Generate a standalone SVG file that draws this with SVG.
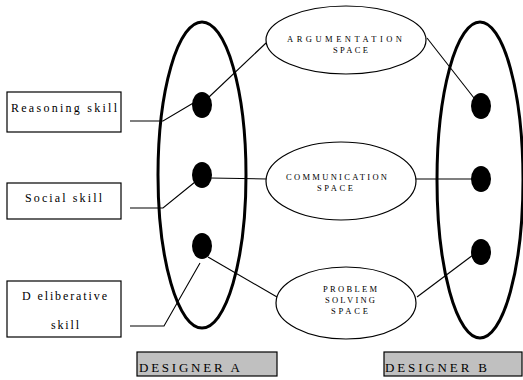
<svg xmlns="http://www.w3.org/2000/svg" width="523" height="380" viewBox="0 0 523 380">
  <style>
    .group { fill: none; stroke: #000; stroke-width: 3; }
    .space { fill: #fff; stroke: #000; stroke-width: 1.2; }
    .dot { fill: #000; }
    .box { fill: #fff; stroke: #000; stroke-width: 1.2; }
    .tag { fill: #c0c0c0; stroke: #000; stroke-width: 1.2; }
    .link { fill: none; stroke: #000; stroke-width: 1.1; }
    text { font-family: "Liberation Serif", "DejaVu Serif", serif; fill: #000; }
    .skill { font-size: 12px; }
    .cap { font-size: 8.5px; }
    .who { font-size: 13px; }
  </style>

  <!-- designer groupings -->
  <g id="designer-a">
    <ellipse class="group" cx="202" cy="175" rx="44" ry="153"/>
  </g>
  <g id="designer-b">
    <ellipse class="group" cx="480" cy="180" rx="43" ry="158"/>
  </g>

  <!-- connectors -->
  <g id="connectors">
    <polyline class="link" points="130,121 163,121 195,102"/>
    <polyline class="link" points="130,208 163,208 195,182"/>
    <polyline class="link" points="130,326 164,326 200,263"/>
    <line class="link" x1="209" y1="97" x2="266" y2="43"/>
    <line class="link" x1="210" y1="178" x2="267" y2="179"/>
    <line class="link" x1="208" y1="257" x2="277" y2="297"/>
    <line class="link" x1="427" y1="38" x2="474" y2="98"/>
    <line class="link" x1="415" y1="179" x2="472" y2="179"/>
    <line class="link" x1="417" y1="297" x2="473" y2="255"/>
  </g>

  <!-- members -->
  <g id="a-dot-1"><ellipse class="dot" cx="202" cy="105" rx="10" ry="13"/></g>
  <g id="a-dot-2"><ellipse class="dot" cx="202" cy="175" rx="10" ry="13"/></g>
  <g id="a-dot-3"><ellipse class="dot" cx="202" cy="246" rx="10" ry="13"/></g>
  <g id="b-dot-1"><ellipse class="dot" cx="481" cy="106" rx="10" ry="13"/></g>
  <g id="b-dot-2"><ellipse class="dot" cx="481" cy="179" rx="10" ry="13"/></g>
  <g id="b-dot-3"><ellipse class="dot" cx="481" cy="252" rx="10" ry="13"/></g>

  <!-- shared spaces -->
  <g id="argumentation-space">
    <ellipse class="space" cx="346" cy="40" rx="80" ry="34"/>
    <text class="cap" x="287" y="42" textLength="115" lengthAdjust="spacing">ARGUMENTATION</text>
    <text class="cap" x="333" y="53" textLength="35" lengthAdjust="spacing">SPACE</text>
  </g>
  <g id="communication-space">
    <ellipse class="space" cx="341" cy="181" rx="75" ry="39"/>
    <text class="cap" x="286" y="180" textLength="101" lengthAdjust="spacing">COMMUNICATION</text>
    <text class="cap" x="317" y="191" textLength="36" lengthAdjust="spacing">SPACE</text>
  </g>
  <g id="problem-solving-space">
    <ellipse class="space" cx="346" cy="303" rx="70" ry="36"/>
    <text class="cap" x="323" y="292" textLength="54" lengthAdjust="spacing">PROBLEM</text>
    <text class="cap" x="325" y="303" textLength="50" lengthAdjust="spacing">SOLVING</text>
    <text class="cap" x="331" y="314" textLength="37" lengthAdjust="spacing">SPACE</text>
  </g>

  <!-- skills -->
  <g id="reasoning-skill">
    <rect class="box" x="7" y="92" width="114" height="40"/>
    <text class="skill" x="11" y="112" textLength="106" lengthAdjust="spacing">Reasoning skill</text>
  </g>
  <g id="social-skill">
    <rect class="box" x="7" y="183" width="114" height="36"/>
    <text class="skill" x="25" y="202" textLength="77" lengthAdjust="spacing">Social skill</text>
  </g>
  <g id="deliberative-skill">
    <rect class="box" x="7" y="281" width="114" height="56"/>
    <text class="skill" x="22" y="300" textLength="85" lengthAdjust="spacing">D eliberative</text>
    <text class="skill" x="51" y="329" textLength="28" lengthAdjust="spacing">skill</text>
  </g>

  <!-- designer labels -->
  <g id="label-a">
    <rect class="tag" x="137" y="352" width="140" height="24"/>
    <text class="who" x="139" y="372" textLength="101" lengthAdjust="spacing">DESIGNER A</text>
  </g>
  <g id="label-b">
    <rect class="tag" x="384" y="352" width="138" height="24"/>
    <text class="who" x="385" y="372" textLength="102" lengthAdjust="spacing">DESIGNER B</text>
  </g>
</svg>
